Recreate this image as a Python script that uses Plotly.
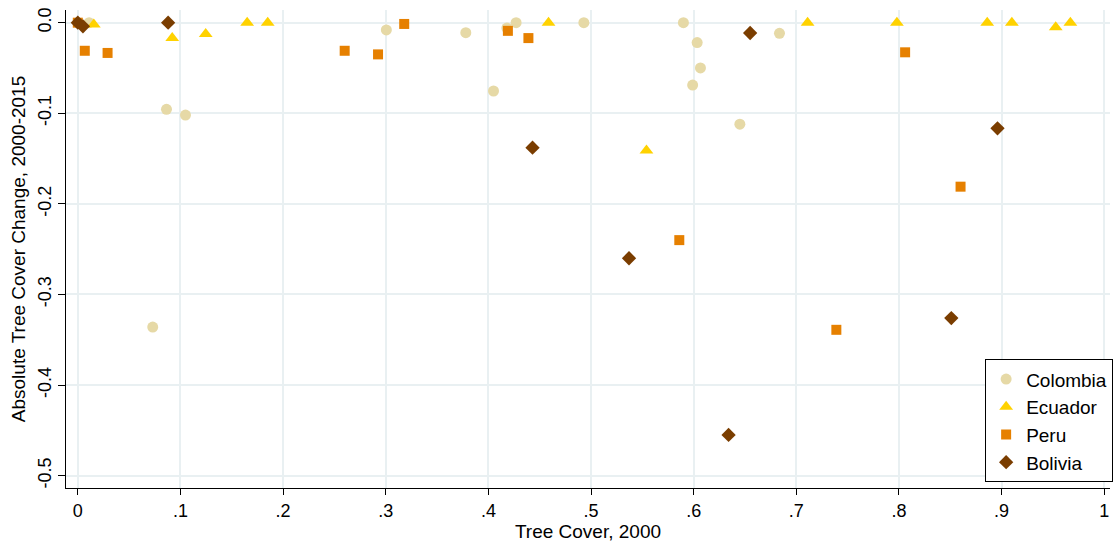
import plotly.graph_objects as go

# ---- data ----
colombia_x = [0.011, 0.0864, 0.1049, 0.073, 0.3006, 0.378, 0.405, 0.418, 0.427, 0.493,
              0.590, 0.6034, 0.6066, 0.599, 0.645, 0.6836]
colombia_y = [0.0, -0.0956, -0.102, -0.336, -0.008, -0.011, -0.0754, -0.006, 0.0, 0.0,
              0.0, -0.022, -0.050, -0.0688, -0.112, -0.0117]

ecuador_x = [0.0156, 0.092, 0.1246, 0.165, 0.185, 0.4586, 0.554, 0.711, 0.798, 0.886,
             0.910, 0.9527, 0.967]
ecuador_y = [-0.002, -0.017, -0.0125, 0.0, 0.0, 0.0, -0.141, 0.0, 0.0, 0.0,
             0.0, -0.005, 0.0]

peru_x = [0.0, 0.0068, 0.029, 0.260, 0.2925, 0.318, 0.419, 0.439, 0.586, 0.739, 0.806, 0.860]
peru_y = [0.0, -0.031, -0.0334, -0.031, -0.035, -0.0014, -0.009, -0.017, -0.240, -0.339,
          -0.0327, -0.181]

bolivia_x = [0.0, 0.005, 0.088, 0.443, 0.537, 0.634, 0.655, 0.851, 0.896]
bolivia_y = [0.0, -0.004, 0.0, -0.138, -0.260, -0.455, -0.0114, -0.326, -0.1166]

x_tickvals = [0, 0.1, 0.2, 0.3, 0.4, 0.5, 0.6, 0.7, 0.8, 0.9, 1.0]
x_ticktext = ["0", ".1", ".2", ".3", ".4", ".5", ".6", ".7", ".8", ".9", "1"]
y_tickvals = [0.0, -0.1, -0.2, -0.3, -0.4, -0.5]
y_ticktext = ["0.0", "-0.1", "-0.2", "-0.3", "-0.4", "-0.5"]

FONT = "Liberation Sans, Arial, Helvetica, sans-serif"
GRID = "#e9f0f2"

series = [
    ("Colombia", colombia_x, colombia_y, "circle", 11, "#e6d9a6"),
    ("Ecuador", ecuador_x, ecuador_y, "triangle-up", 12, "#ffd200"),
    ("Peru", peru_x, peru_y, "square", 10, "#e68000"),
    ("Bolivia", bolivia_x, bolivia_y, "diamond", 11, "#7a3d00"),
]

fig = go.Figure()
for name, xs, ys, sym, size, col in series:
    fig.add_trace(go.Scatter(
        x=xs, y=ys, mode="markers", name=name,
        marker=dict(symbol=sym, size=size, color=col, line=dict(width=0)),
    ))

fig.update_layout(
    width=1115, height=544,
    margin=dict(l=66, r=5, t=10, b=56, autoexpand=False),
    paper_bgcolor="white", plot_bgcolor="white",
    font=dict(family=FONT, size=18, color="black"),
    showlegend=True,
    legend=dict(
        x=1.003, y=0.012, xanchor="right", yanchor="bottom",
        bgcolor="white", bordercolor="black", borderwidth=1,
        font=dict(size=19, family=FONT), tracegroupgap=0,
        itemsizing="trace", itemwidth=30,
    ),
)

fig.update_xaxes(
    range=[-0.0115, 1.0056],
    tickvals=x_tickvals, ticktext=x_ticktext,
    showgrid=True, gridcolor=GRID, gridwidth=1.5,
    zeroline=False, automargin=False,
    showline=True, linecolor="black", linewidth=1,
    ticks="outside", ticklen=6, tickcolor="black",
    tickfont=dict(size=18),
    title=dict(text="Tree Cover, 2000", font=dict(size=19), standoff=2),
)
fig.update_yaxes(
    range=[-0.5136, 0.014],
    tickvals=y_tickvals, ticktext=y_ticktext,
    tickangle=-90,
    showgrid=True, gridcolor=GRID, gridwidth=1.5,
    zeroline=False, automargin=False,
    showline=True, linecolor="black", linewidth=1,
    ticks="outside", ticklen=7, tickcolor="black",
    tickfont=dict(size=18),
    title=dict(text="Absolute Tree Cover Change, 2000-2015", font=dict(size=19), standoff=4),
)

fig.write_html(
    "out.html",
    config={"displayModeBar": False},
    post_script="document.body.style.margin='0';document.body.style.overflow='hidden';",
)
